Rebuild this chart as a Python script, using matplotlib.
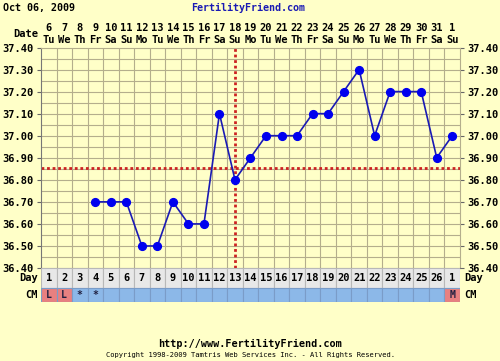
import numpy as np
import matplotlib.pyplot as plt

# chart data
cycle_day = list(range(1, 28))
day_labels = [str(d) for d in range(1, 27)] + ['1']
dates = [str(d) for d in range(6, 32)] + ['1']
weekdays = ['Tu', 'We', 'Th', 'Fr', 'Sa', 'Su', 'Mo'] * 4
weekdays = weekdays[:27]
temp_days = list(range(4, 28))
temps = [36.70, 36.70, 36.70, 36.50, 36.50, 36.70, 36.60, 36.60, 37.10, 36.80,
         36.90, 37.00, 37.00, 37.00, 37.10, 37.10, 37.20, 37.30, 37.00, 37.20,
         37.20, 37.20, 36.90, 37.00]
cm = ['L', 'L', '*', '*'] + [''] * 22 + ['M']
coverline = 36.855
ovulation_day = 13
yticks = [36.40, 36.50, 36.60, 36.70, 36.80, 36.90, 37.00, 37.10, 37.20, 37.30, 37.40]

bg = '#ffffc8'
gridc = '#b4ae8c'
font = 'DejaVu Sans Mono'

fig = plt.figure(figsize=(5, 3.61), dpi=100, facecolor=bg)

ax = fig.add_axes([41/500, 1-268/361, 419/500, 220.5/361])
ax.set_facecolor(bg)
ax.set_xlim(0.5, 27.5)
ax.set_ylim(36.40, 37.40)
for x in np.arange(1.5, 27.5, 1):
    ax.axvline(x, color=gridc, lw=0.8, zorder=1)
for y in np.arange(36.45, 37.40, 0.05):
    ax.axhline(y, color=gridc, lw=0.8, zorder=1)

ax.axhline(coverline, color='#cc2222', lw=2, ls=(0, (1, 1)), zorder=2)
ax.axvline(ovulation_day, color='#cc2222', lw=2, ls=(0, (1, 1)), zorder=2)
ax.plot(temp_days, temps, color='#1a1ab4', lw=1.2, zorder=3)
ax.plot(temp_days, temps, 'o', color='#0000ee', ms=5.6, zorder=4)

ax.set_yticks(yticks)
ax.set_yticklabels(['%.2f' % v for v in yticks])
ax.tick_params(axis='y', left=True, right=True, labelleft=True, labelright=True,
               length=3, width=0.8, color='#666666', pad=2)
for lab in ax.get_yticklabels():
    lab.set_fontfamily(font)
    lab.set_fontweight('bold')
    lab.set_fontsize(7.5)
ax.set_xticks([])
for s in ax.spines.values():
    s.set_color(gridc)
ax.spines['left'].set_color('#777777')
ax.spines['bottom'].set_color('#777777')

# date header
for d, dt, wd in zip(cycle_day, dates, weekdays):
    ax.text(d, 1.09, dt, transform=ax.get_xaxis_transform(), ha='center', va='center',
            fontsize=7.5, fontweight='bold', family=font)
    ax.text(d, 1.034, wd, transform=ax.get_xaxis_transform(), ha='center', va='center',
            fontsize=7.5, fontweight='bold', family=font)
fig.text(38/500, 1-34/361, 'Date', ha='right', va='center', fontsize=7.5,
         fontweight='bold', family=font)

# day / CM rows
tab = fig.add_axes([41/500, 1-302/361, 419/500, 34/361])
tab.set_xlim(0.5, 27.5)
tab.set_ylim(0, 34)
tab.axis('off')
tab.bar(cycle_day, [20]*27, bottom=14, width=1, color='#e8e8e8', edgecolor='#b8b8b8', lw=0.8)
cm_colors = ['#e88080' if c in ('L', 'M') else '#8cb8e8' for c in cm]
tab.bar(cycle_day, [14]*27, bottom=0, width=1, color=cm_colors, edgecolor='#7a9cc8', lw=0.8)
for d, lbl, c in zip(cycle_day, day_labels, cm):
    tab.text(d, 24, lbl, ha='center', va='center', fontsize=7.5, fontweight='bold', family=font)
    if c:
        tab.text(d, 7, c, ha='center', va='center', fontsize=7, fontweight='bold',
                 family=font, color='#202040')
fig.text(38/500, 1-278/361, 'Day', ha='right', va='center', fontsize=7.5, fontweight='bold', family=font)
fig.text(38/500, 1-295/361, 'CM', ha='right', va='center', fontsize=7.5, fontweight='bold', family=font)
fig.text(464/500, 1-278/361, 'Day', ha='left', va='center', fontsize=7.5, fontweight='bold', family=font)
fig.text(464/500, 1-295/361, 'CM', ha='left', va='center', fontsize=7.5, fontweight='bold', family=font)

# titles and footer
fig.text(3/500, 1-8/361, 'Oct 06, 2009', ha='left', va='center', fontsize=7.2,
         fontweight='bold', family=font)
fig.text(248/500, 1-8/361, 'FertilityFriend.com', ha='center', va='center', fontsize=7.2,
         fontweight='bold', family=font, color='#1a1ab4')
fig.text(250/500, 1-344/361, 'http://www.FertilityFriend.com', ha='center', va='center',
         fontsize=7.3, fontweight='bold', family=font)
fig.text(250/500, 1-355/361, 'Copyright 1998-2009 Tamtris Web Services Inc. - All Rights Reserved.',
         ha='center', va='center', fontsize=5.1, family=font)

fig.savefig('out.png', dpi=100, facecolor=bg)
